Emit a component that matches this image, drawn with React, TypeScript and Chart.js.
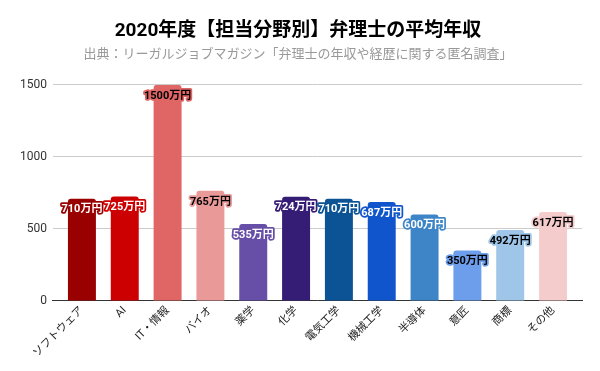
import React, { useEffect, useRef } from "react";
import { Chart, registerables } from "chart.js";

Chart.register(...registerables);

const categories = ["ソフトウェア", "AI", "IT・情報", "バイオ", "薬学", "化学", "電気工学", "機械工学", "半導体", "意匠", "商標", "その他"];
const salaries = [710, 725, 1500, 765, 535, 724, 710, 687, 600, 350, 492, 617];
const barColors = ["#990000", "#cc0000", "#e06666", "#ea9999", "#674ea7", "#351c75", "#0b5394", "#1155cc", "#3d85c6", "#6d9eeb", "#9fc5e8", "#f4cccc"];
const labelTextColors = ["#fff", "#fff", "#000", "#000", "#fff", "#fff", "#fff", "#fff", "#fff", "#000", "#000", "#000"];
const yTicks = [0, 500, 1000, 1500];
const titleText = "2020年度【担当分野別】弁理士の平均年収";
const subtitleText = "出典：リーガルジョブマガジン「弁理士の年収や経歴に関する匿名調査」";
const unit = "万円";

const FONT = "Roboto, 'Noto Sans CJK JP', sans-serif";

const labelPlugin = {
  id: "barLabels",
  afterDatasetsDraw(chart: any) {
    const ctx = chart.ctx;
    const meta = chart.getDatasetMeta(0);
    ctx.save();
    ctx.font = `bold 11px ${FONT}`;
    ctx.textAlign = "center";
    ctx.textBaseline = "middle";
    ctx.lineJoin = "round";
    meta.data.forEach((el: any, i: number) => {
      const text = `${salaries[i]}${unit}`;
      const x = el.x;
      const y = el.y + 11;
      ctx.lineWidth = 3.5;
      ctx.strokeStyle = barColors[i];
      ctx.strokeText(text, x, y);
      ctx.fillStyle = labelTextColors[i];
      ctx.fillText(text, x, y);
    });
    ctx.restore();
  },
};

export default function App() {
  const ref = useRef<HTMLCanvasElement | null>(null);
  useEffect(() => {
    document.body.style.margin = "0";
    const chart = new Chart(ref.current!, {
      type: "bar",
      data: {
        datasets: [
          {
            data: salaries.map((v, i) => ({ x: i, y: v })),
            backgroundColor: barColors,
            borderRadius: { topLeft: 3, topRight: 3, bottomLeft: 0, bottomRight: 0 },
            borderSkipped: "bottom",
            barPercentage: 0.653,
            categoryPercentage: 1,
          },
        ],
      },
      options: {
        animation: false,
        responsive: false,
        maintainAspectRatio: false,
        layout: { padding: { left: 14, right: 18, top: 0, bottom: 8 } },
        plugins: {
          legend: { display: false },
          tooltip: { enabled: false },
          title: {
            display: true,
            text: titleText,
            color: "#000",
            font: { family: FONT, size: 19, weight: "bold" },
            padding: { top: 19.5, bottom: 5 },
          },
          subtitle: {
            display: true,
            text: subtitleText,
            color: "#999",
            font: { family: FONT, size: 13 },
            padding: { top: 0, bottom: 22 },
          },
        },
        scales: {
          x: {
            type: "linear",
            offset: false,
            min: -0.676,
            max: 11.676,
            afterBuildTicks: (s: any) => {
              s.ticks = categories.map((_, i) => ({ value: i }));
            },
            ticks: {
              autoSkip: false,
              maxRotation: 45,
              minRotation: 45,
              color: "#222",
              font: { family: FONT, size: 11 },
              padding: 3,
              callback: (v: any) => categories[v as number],
            },
            grid: { display: false, drawTicks: false },
            border: { display: true, color: "#333", width: 1 },
          },
          y: {
            min: 0,
            max: 1500,
            afterBuildTicks: (s: any) => {
              s.ticks = yTicks.map((v) => ({ value: v }));
            },
            ticks: {
              color: "#333",
              font: { family: FONT, size: 12 },
              padding: 6,
              callback: (v: any) => String(v),
            },
            grid: { color: "#cccccc", drawTicks: false },
            border: { display: false },
          },
        },
      },
      plugins: [labelPlugin],
    });
    return () => chart.destroy();
  }, []);
  return (
    <div style={{ position: "absolute", left: 0, top: 0, width: 600, height: 371 }}>
      <canvas ref={ref} width={600} height={371} style={{ width: 600, height: 371 }} />
    </div>
  );
}
